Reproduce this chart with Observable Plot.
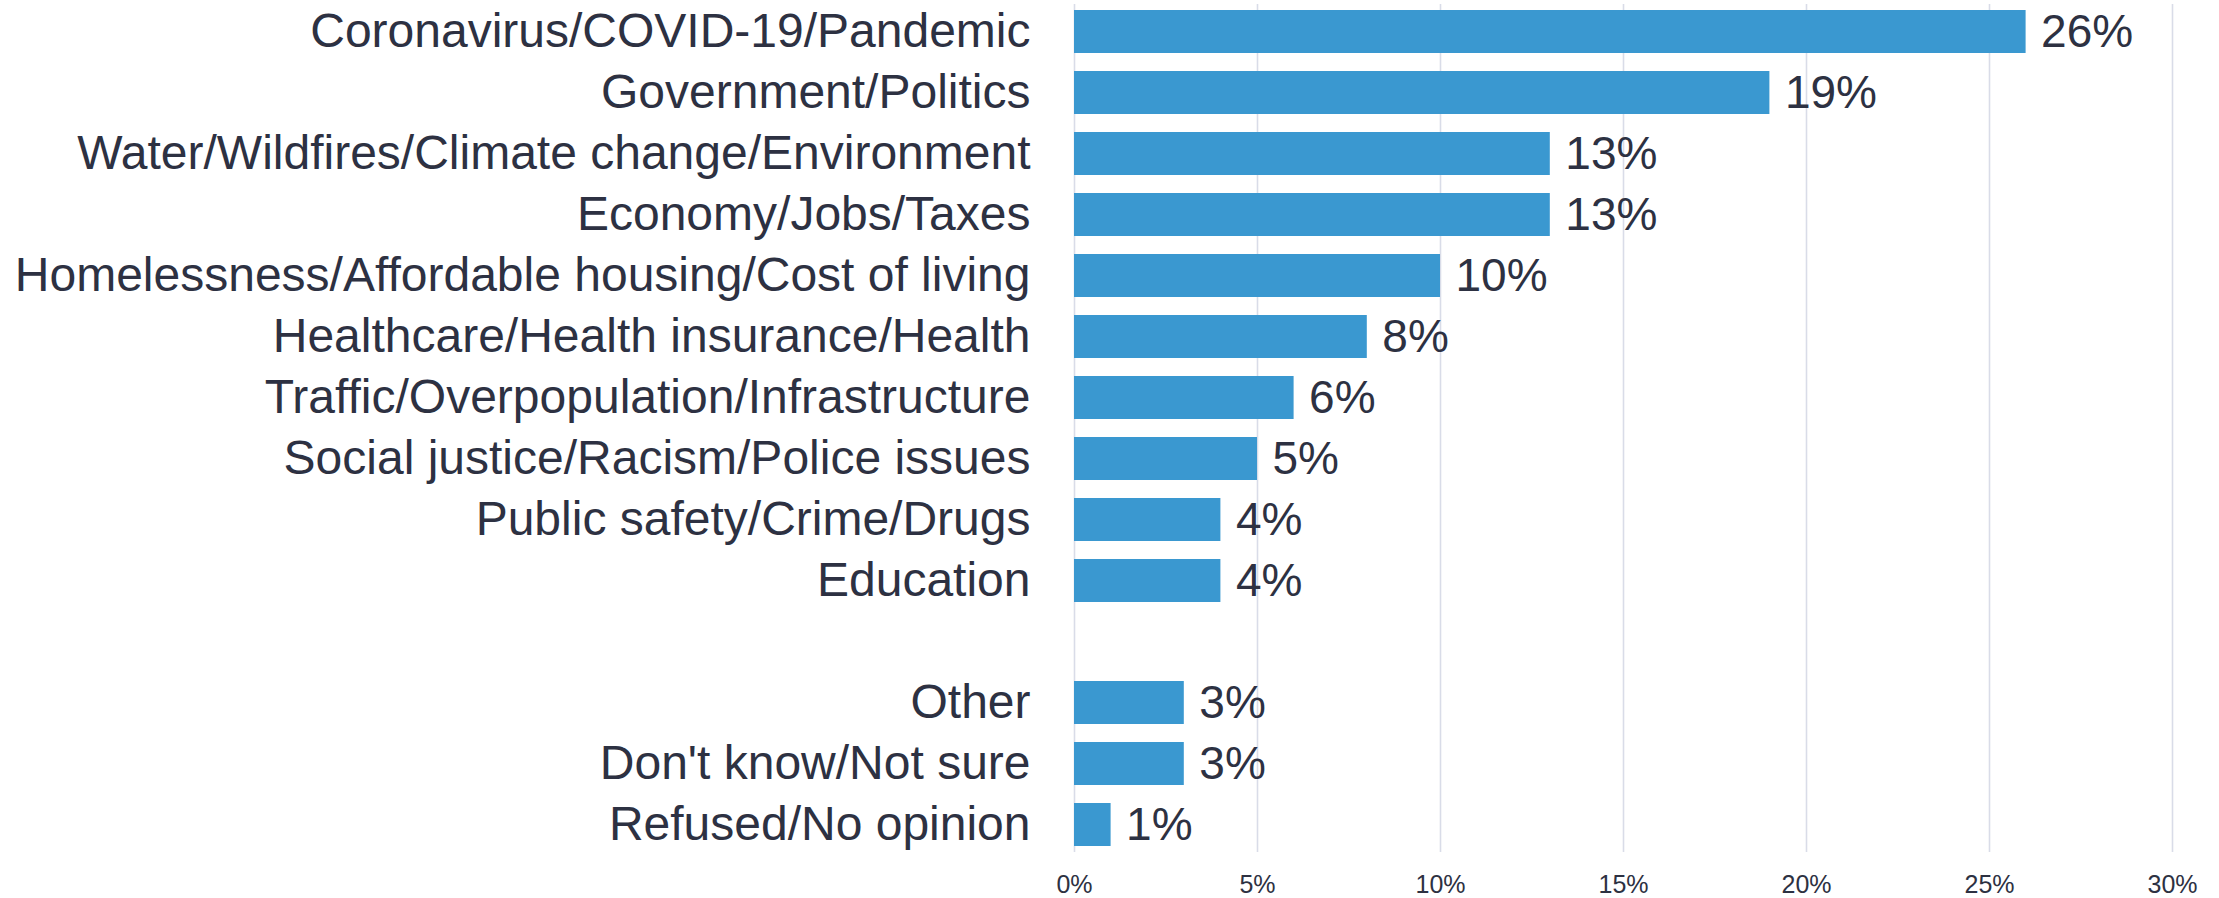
<!DOCTYPE html>
<html>
<head>
<meta charset="utf-8">
<script src="https://cdn.jsdelivr.net/npm/d3@7"></script>
<script src="https://cdn.jsdelivr.net/npm/@observablehq/plot@0.6"></script>
<style>
  html, body { margin: 0; padding: 0; background: #ffffff; }
  #chart svg { display: block; }
</style>
</head>
<body>
<div id="chart"></div>
<script>
const categories = [
  "Coronavirus/COVID-19/Pandemic",
  "Government/Politics",
  "Water/Wildfires/Climate change/Environment",
  "Economy/Jobs/Taxes",
  "Homelessness/Affordable housing/Cost of living",
  "Healthcare/Health insurance/Health",
  "Traffic/Overpopulation/Infrastructure",
  "Social justice/Racism/Police issues",
  "Public safety/Crime/Drugs",
  "Education",
  "Other",
  "Don't know/Not sure",
  "Refused/No opinion"
];
const values = [26, 19, 13, 13, 10, 8, 6, 5, 4, 4, 3, 3, 1];
const gapAfter = "Education";
const xTicks = [0, 5, 10, 15, 20, 25, 30];

const data = categories.map((c, i) => ({category: c, value: values[i]}));
const GAP = " ";
const yDomain = [];
categories.forEach(c => { yDomain.push(c); if (c === gapAfter) yDomain.push(GAP); });

const textColor = "#2d3142";
const barColor = "#3a98d0";
const gridColor = "#d9dce8";

const chart = Plot.plot({
  width: 2219,
  height: 898,
  marginLeft: 1074,
  marginRight: 47,
  marginTop: 4,
  marginBottom: 46,
  style: {fontFamily: "'Liberation Sans', Arial, sans-serif", color: textColor, background: "#ffffff"},
  x: {domain: [0, 30]},
  y: {domain: yDomain, paddingInner: 0.3, paddingOuter: 0.1},
  marks: [
    Plot.gridX(xTicks, {stroke: gridColor, strokeOpacity: 1, strokeWidth: 1.6}),
    Plot.barX(data, {x: "value", y: "category", fill: barColor}),
    Plot.text(data, {x: "value", y: "category", text: d => `${d.value}%`, textAnchor: "start", dx: 15, fontSize: 46, fill: textColor}),
    Plot.axisY({tickSize: 0, tickPadding: 44, fontSize: 48, tickFormat: d => d === GAP ? "" : d, label: null, fill: textColor}),
    Plot.axisX(xTicks, {tickSize: 0, tickPadding: 23, fontSize: 25, tickFormat: d => `${d}%`, label: null, fill: textColor})
  ]
});
document.getElementById("chart").append(chart);
</script>
</body>
</html>
